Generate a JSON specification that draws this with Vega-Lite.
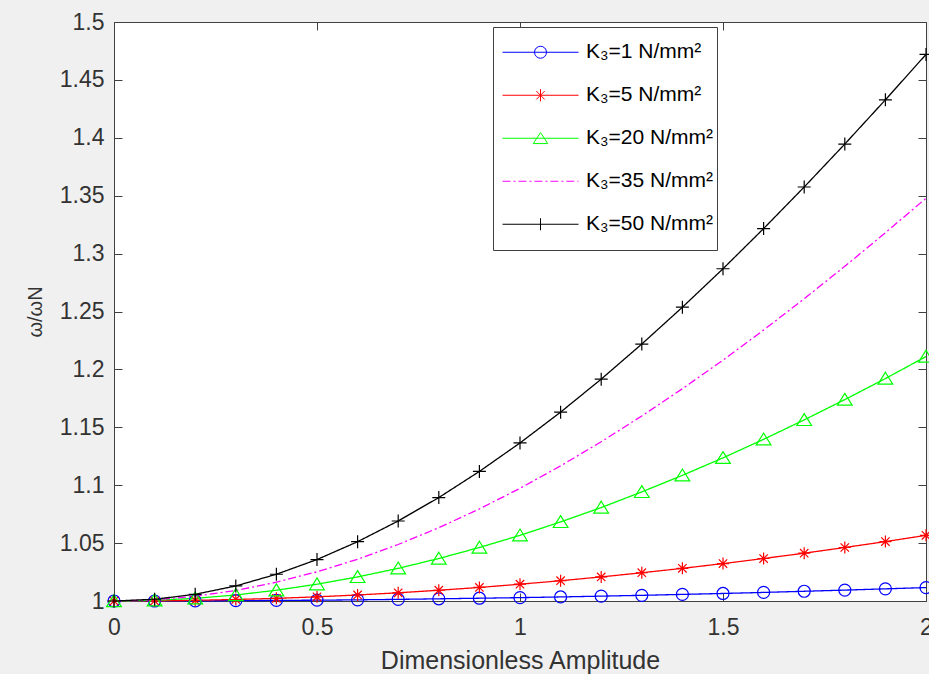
{
  "$schema": "https://vega.github.io/schema/vega-lite/v6.json",
  "autosize": {"type": "none"},
  "width": 812,
  "height": 579,
  "padding": {"left": 114, "top": 22, "right": 3, "bottom": 73},
  "background": "#f0f0f0",
  "config": {
    "view": {"stroke": "#404040", "strokeWidth": 1, "fill": "#ffffff"},
    "font": "Liberation Sans",
    "axis": {
      "domainColor": "#404040", "tickColor": "#404040", "labelColor": "#333333",
      "labelFont": "Liberation Sans", "labelFontSize": 23, "titleFont": "Liberation Sans",
      "titleFontSize": 25, "titleFontWeight": "normal", "titleColor": "#333333",
      "grid": false, "tickSize": -8, "labelOverlap": false, "labelFlush": false
    }
  },
  "data": {"values": [
    {"s": "K₃=1 N/mm²", "A": 0, "r": 1}, {"s": "K₃=1 N/mm²", "A": 0.1, "r": 1.0000}, {"s": "K₃=1 N/mm²", "A": 0.2, "r": 1.0001}, {"s": "K₃=1 N/mm²", "A": 0.3, "r": 1.0003}, {"s": "K₃=1 N/mm²", "A": 0.4, "r": 1.0005}, {"s": "K₃=1 N/mm²", "A": 0.5, "r": 1.0007}, {"s": "K₃=1 N/mm²", "A": 0.6, "r": 1.0010}, {"s": "K₃=1 N/mm²", "A": 0.7, "r": 1.0014}, {"s": "K₃=1 N/mm²", "A": 0.8, "r": 1.0019}, {"s": "K₃=1 N/mm²", "A": 0.9, "r": 1.0024}, {"s": "K₃=1 N/mm²", "A": 1.0, "r": 1.0029}, {"s": "K₃=1 N/mm²", "A": 1.1, "r": 1.0035}, {"s": "K₃=1 N/mm²", "A": 1.2, "r": 1.0042}, {"s": "K₃=1 N/mm²", "A": 1.3, "r": 1.0049}, {"s": "K₃=1 N/mm²", "A": 1.4, "r": 1.0057}, {"s": "K₃=1 N/mm²", "A": 1.5, "r": 1.0065}, {"s": "K₃=1 N/mm²", "A": 1.6, "r": 1.0074}, {"s": "K₃=1 N/mm²", "A": 1.7, "r": 1.0084}, {"s": "K₃=1 N/mm²", "A": 1.8, "r": 1.0094}, {"s": "K₃=1 N/mm²", "A": 1.9, "r": 1.0105}, {"s": "K₃=1 N/mm²", "A": 2.0, "r": 1.0116},
    {"s": "K₃=5 N/mm²", "A": 0, "r": 1}, {"s": "K₃=5 N/mm²", "A": 0.1, "r": 1.0001}, {"s": "K₃=5 N/mm²", "A": 0.2, "r": 1.0006}, {"s": "K₃=5 N/mm²", "A": 0.3, "r": 1.0013}, {"s": "K₃=5 N/mm²", "A": 0.4, "r": 1.0023}, {"s": "K₃=5 N/mm²", "A": 0.5, "r": 1.0036}, {"s": "K₃=5 N/mm²", "A": 0.6, "r": 1.0052}, {"s": "K₃=5 N/mm²", "A": 0.7, "r": 1.0071}, {"s": "K₃=5 N/mm²", "A": 0.8, "r": 1.0093}, {"s": "K₃=5 N/mm²", "A": 0.9, "r": 1.0117}, {"s": "K₃=5 N/mm²", "A": 1.0, "r": 1.0145}, {"s": "K₃=5 N/mm²", "A": 1.1, "r": 1.0175}, {"s": "K₃=5 N/mm²", "A": 1.2, "r": 1.0208}, {"s": "K₃=5 N/mm²", "A": 1.3, "r": 1.0244}, {"s": "K₃=5 N/mm²", "A": 1.4, "r": 1.0282}, {"s": "K₃=5 N/mm²", "A": 1.5, "r": 1.0323}, {"s": "K₃=5 N/mm²", "A": 1.6, "r": 1.0367}, {"s": "K₃=5 N/mm²", "A": 1.7, "r": 1.0413}, {"s": "K₃=5 N/mm²", "A": 1.8, "r": 1.0462}, {"s": "K₃=5 N/mm²", "A": 1.9, "r": 1.0513}, {"s": "K₃=5 N/mm²", "A": 2.0, "r": 1.0567},
    {"s": "K₃=20 N/mm²", "A": 0, "r": 1}, {"s": "K₃=20 N/mm²", "A": 0.1, "r": 1.0006}, {"s": "K₃=20 N/mm²", "A": 0.2, "r": 1.0023}, {"s": "K₃=20 N/mm²", "A": 0.3, "r": 1.0052}, {"s": "K₃=20 N/mm²", "A": 0.4, "r": 1.0093}, {"s": "K₃=20 N/mm²", "A": 0.5, "r": 1.0145}, {"s": "K₃=20 N/mm²", "A": 0.6, "r": 1.0208}, {"s": "K₃=20 N/mm²", "A": 0.7, "r": 1.0282}, {"s": "K₃=20 N/mm²", "A": 0.8, "r": 1.0367}, {"s": "K₃=20 N/mm²", "A": 0.9, "r": 1.0462}, {"s": "K₃=20 N/mm²", "A": 1.0, "r": 1.0567}, {"s": "K₃=20 N/mm²", "A": 1.1, "r": 1.0683}, {"s": "K₃=20 N/mm²", "A": 1.2, "r": 1.0807}, {"s": "K₃=20 N/mm²", "A": 1.3, "r": 1.0942}, {"s": "K₃=20 N/mm²", "A": 1.4, "r": 1.1085}, {"s": "K₃=20 N/mm²", "A": 1.5, "r": 1.1236}, {"s": "K₃=20 N/mm²", "A": 1.6, "r": 1.1396}, {"s": "K₃=20 N/mm²", "A": 1.7, "r": 1.1564}, {"s": "K₃=20 N/mm²", "A": 1.8, "r": 1.1739}, {"s": "K₃=20 N/mm²", "A": 1.9, "r": 1.1921}, {"s": "K₃=20 N/mm²", "A": 2.0, "r": 1.2111},
    {"s": "K₃=35 N/mm²", "A": 0, "r": 1}, {"s": "K₃=35 N/mm²", "A": 0.1, "r": 1.0010}, {"s": "K₃=35 N/mm²", "A": 0.2, "r": 1.0041}, {"s": "K₃=35 N/mm²", "A": 0.3, "r": 1.0091}, {"s": "K₃=35 N/mm²", "A": 0.4, "r": 1.0162}, {"s": "K₃=35 N/mm²", "A": 0.5, "r": 1.0252}, {"s": "K₃=35 N/mm²", "A": 0.6, "r": 1.0361}, {"s": "K₃=35 N/mm²", "A": 0.7, "r": 1.0488}, {"s": "K₃=35 N/mm²", "A": 0.8, "r": 1.0633}, {"s": "K₃=35 N/mm²", "A": 0.9, "r": 1.0795}, {"s": "K₃=35 N/mm²", "A": 1.0, "r": 1.0973}, {"s": "K₃=35 N/mm²", "A": 1.1, "r": 1.1167}, {"s": "K₃=35 N/mm²", "A": 1.2, "r": 1.1375}, {"s": "K₃=35 N/mm²", "A": 1.3, "r": 1.1598}, {"s": "K₃=35 N/mm²", "A": 1.4, "r": 1.1833}, {"s": "K₃=35 N/mm²", "A": 1.5, "r": 1.2080}, {"s": "K₃=35 N/mm²", "A": 1.6, "r": 1.2340}, {"s": "K₃=35 N/mm²", "A": 1.7, "r": 1.2610}, {"s": "K₃=35 N/mm²", "A": 1.8, "r": 1.2890}, {"s": "K₃=35 N/mm²", "A": 1.9, "r": 1.3180}, {"s": "K₃=35 N/mm²", "A": 2.0, "r": 1.3478},
    {"s": "K₃=50 N/mm²", "A": 0, "r": 1}, {"s": "K₃=50 N/mm²", "A": 0.1, "r": 1.0015}, {"s": "K₃=50 N/mm²", "A": 0.2, "r": 1.0058}, {"s": "K₃=50 N/mm²", "A": 0.3, "r": 1.0130}, {"s": "K₃=50 N/mm²", "A": 0.4, "r": 1.0231}, {"s": "K₃=50 N/mm²", "A": 0.5, "r": 1.0358}, {"s": "K₃=50 N/mm²", "A": 0.6, "r": 1.0512}, {"s": "K₃=50 N/mm²", "A": 0.7, "r": 1.0691}, {"s": "K₃=50 N/mm²", "A": 0.8, "r": 1.0893}, {"s": "K₃=50 N/mm²", "A": 0.9, "r": 1.1119}, {"s": "K₃=50 N/mm²", "A": 1.0, "r": 1.1365}, {"s": "K₃=50 N/mm²", "A": 1.1, "r": 1.1631}, {"s": "K₃=50 N/mm²", "A": 1.2, "r": 1.1916}, {"s": "K₃=50 N/mm²", "A": 1.3, "r": 1.2219}, {"s": "K₃=50 N/mm²", "A": 1.4, "r": 1.2537}, {"s": "K₃=50 N/mm²", "A": 1.5, "r": 1.2869}, {"s": "K₃=50 N/mm²", "A": 1.6, "r": 1.3216}, {"s": "K₃=50 N/mm²", "A": 1.7, "r": 1.3575}, {"s": "K₃=50 N/mm²", "A": 1.8, "r": 1.3946}, {"s": "K₃=50 N/mm²", "A": 1.9, "r": 1.4328}, {"s": "K₃=50 N/mm²", "A": 2.0, "r": 1.4720}
  ]},
  "resolve": {"axis": {"x": "independent", "y": "independent"}},
  "layer": [
    {
      "mark": {"type": "line", "strokeWidth": 1.3, "clip": false},
      "encoding": {
        "x": {"field": "A", "type": "quantitative", "scale": {"domain": [0, 2], "nice": false, "zero": false},
              "axis": {"orient": "bottom", "values": [0, 0.5, 1, 1.5, 2], "format": "~g", "labelPadding": 23, "title": "Dimensionless Amplitude", "titlePadding": 9}},
        "y": {"field": "r", "type": "quantitative", "scale": {"domain": [1, 1.5], "nice": false, "zero": false},
              "axis": {"orient": "left", "values": [1, 1.05, 1.1, 1.15, 1.2, 1.25, 1.3, 1.35, 1.4, 1.45, 1.5], "format": "~g", "labelPadding": 18, "title": "ω/ωN", "titleFontSize": 20, "titlePadding": 14}},
        "stroke": {"field": "s", "type": "nominal", "legend": null,
                  "sort": ["K₃=1 N/mm²", "K₃=5 N/mm²", "K₃=20 N/mm²", "K₃=35 N/mm²", "K₃=50 N/mm²"],
                  "scale": {"range": ["#0000ff", "#ff0000", "#00ff00", "#ff00ff", "#000000"]}},
        "strokeDash": {"field": "s", "type": "nominal", "legend": null,
                  "sort": ["K₃=1 N/mm²", "K₃=5 N/mm²", "K₃=20 N/mm²", "K₃=35 N/mm²", "K₃=50 N/mm²"],
                  "scale": {"range": [[1, 0], [1, 0], [1, 0], [8, 3, 2, 3], [1, 0]]}}
      }
    },
    {
      "transform": [{"filter": {"field": "s", "equal": "K₃=1 N/mm²"}}],
      "mark": {"type": "point", "shape": "circle", "size": 144, "filled": false, "color": "#0000ff", "strokeWidth": 1.2, "opacity": 1, "clip": false},
      "encoding": {"x": {"field": "A", "type": "quantitative", "axis": null}, "y": {"field": "r", "type": "quantitative", "axis": null}}
    },
    {
      "transform": [{"filter": {"field": "s", "equal": "K₃=5 N/mm²"}}],
      "mark": {"type": "point", "shape": "M-1,0H1M0,-1V1M-0.7,-0.7L0.7,0.7M-0.7,0.7L0.7,-0.7", "size": 144, "filled": false, "color": "#ff0000", "strokeWidth": 1.2, "opacity": 1, "clip": false},
      "encoding": {"x": {"field": "A", "type": "quantitative", "axis": null}, "y": {"field": "r", "type": "quantitative", "axis": null}}
    },
    {
      "transform": [{"filter": {"field": "s", "equal": "K₃=20 N/mm²"}}],
      "mark": {"type": "point", "shape": "M0,-0.9L1.05,0.8L-1.05,0.8Z", "size": 196, "filled": false, "color": "#00ff00", "strokeWidth": 1.2, "opacity": 1, "clip": false},
      "encoding": {"x": {"field": "A", "type": "quantitative", "axis": null}, "y": {"field": "r", "type": "quantitative", "axis": null}}
    },
    {
      "transform": [{"filter": {"field": "s", "equal": "K₃=50 N/mm²"}}],
      "mark": {"type": "point", "shape": "M-1,0H1M0,-1V1", "size": 169, "filled": false, "color": "#000000", "strokeWidth": 1.2, "opacity": 1, "clip": false},
      "encoding": {"x": {"field": "A", "type": "quantitative", "axis": null}, "y": {"field": "r", "type": "quantitative", "axis": null}}
    },
    {
      "transform": [{"filter": {"field": "A", "equal": 0}}],
      "mark": {"type": "point", "filled": false, "opacity": 0},
      "encoding": {
        "x": {"field": "A", "type": "quantitative", "axis": {"orient": "top", "values": [0, 0.5, 1, 1.5, 2], "labels": false, "title": null, "domain": false}},
        "y": {"field": "r", "type": "quantitative", "axis": {"orient": "right", "values": [1, 1.05, 1.1, 1.15, 1.2, 1.25, 1.3, 1.35, 1.4, 1.45, 1.5], "labels": false, "title": null, "domain": false}},
        "color": {"field": "s", "type": "nominal",
                  "scale": {"domain": ["K₃=1 N/mm²", "K₃=5 N/mm²", "K₃=20 N/mm²", "K₃=35 N/mm²", "K₃=50 N/mm²"], "range": ["#0000ff", "#ff0000", "#00ff00", "#ff00ff", "#000000"]},
                  "legend": {"orient": "none", "legendX": 379, "legendY": 5, "title": null, "symbolSize": 5776, "symbolStrokeWidth": 1, "symbolOpacity": 1, "clipHeight": 42.5, "rowPadding": 0, "padding": 4, "symbolOffset": 5, "labelOffset": 7, "labelFont": "Liberation Sans", "labelFontSize": 21, "labelColor": "#000000", "labelLimit": 300, "strokeColor": "#404040", "fillColor": "#ffffff"}},
        "shape": {"field": "s", "type": "nominal",
                  "scale": {"domain": ["K₃=1 N/mm²", "K₃=5 N/mm²", "K₃=20 N/mm²", "K₃=35 N/mm²", "K₃=50 N/mm²"],
                            "range": [
                              "M-1,0H1M0.158,0L0.146,0.06L0.112,0.112L0.06,0.146L0,0.158L-0.06,0.146L-0.112,0.112L-0.146,0.06L-0.158,0L-0.146,-0.06L-0.112,-0.112L-0.06,-0.146L0,-0.158L0.06,-0.146L0.112,-0.112L0.146,-0.06Z",
                              "M-1,0H1M0,-0.16V0.16M-0.11,-0.11L0.11,0.11M-0.11,0.11L0.11,-0.11",
                              "M-1,0H1M0,-0.15L0.19,0.14L-0.19,0.14Z",
                              "M-1,0H-0.79M-0.71,0H-0.66M-0.58,0H-0.37M-0.29,0H-0.24M-0.16,0H0.05M0.13,0H0.18M0.26,0H0.47M0.55,0H0.6M0.68,0H0.89M0.97,0H1",
                              "M-1,0H1M0,-0.16V0.16"
                            ]},
                  "legend": {"orient": "none", "legendX": 379, "legendY": 5, "title": null, "symbolSize": 5776, "symbolStrokeWidth": 1, "symbolOpacity": 1, "clipHeight": 42.5, "rowPadding": 0, "padding": 4, "symbolOffset": 5, "labelOffset": 7, "labelFont": "Liberation Sans", "labelFontSize": 21, "labelColor": "#000000", "labelLimit": 300, "strokeColor": "#404040", "fillColor": "#ffffff"}}
      }
    }
  ]
}
